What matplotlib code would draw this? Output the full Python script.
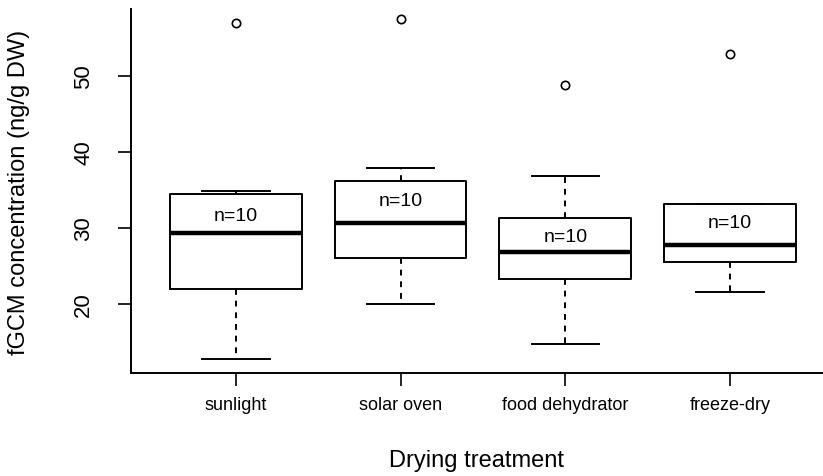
import matplotlib
matplotlib.use('Agg')
import matplotlib.pyplot as plt

# ---------------------------------------------------------------------------
# Data (ng/g DW)
# ---------------------------------------------------------------------------
treatments = ['sunlight', 'solar oven', 'food dehydrator', 'freeze-dry']
whis_lo = [12.8, 20.0, 14.7, 21.6]
q1 = [22.0, 26.1, 23.3, 25.5]
medians = [29.3, 30.7, 26.8, 27.7]
q3 = [34.4, 36.2, 31.3, 33.1]
whis_hi = [34.9, 37.9, 36.8, 33.1]
outliers = [[56.9], [57.5], [48.8], [52.9]]
n_labels = ['n=10', 'n=10', 'n=10', 'n=10']
n_label_y = [31.6, 33.6, 28.9, 30.7]

plt.rcParams.update({
    'font.family': ['Liberation Sans', 'DejaVu Sans'],
})

fig = plt.figure(figsize=(8.23, 4.77), dpi=100)
ax = fig.add_axes([0.159, 0.216, 0.841, 0.763])

stats = []
for i, name in enumerate(treatments):
    stats.append(dict(label=name, whislo=whis_lo[i], q1=q1[i], med=medians[i],
                      q3=q3[i], whishi=whis_hi[i], fliers=outliers[i]))

pos = list(range(1, len(treatments) + 1))
ax.bxp(stats, positions=pos, widths=0.8, capwidths=0.41, showfliers=True,
       boxprops=dict(color='black', linewidth=1.4),
       medianprops=dict(color='black', linewidth=3.2, solid_capstyle='butt'),
       whiskerprops=dict(color='black', linewidth=1.4, linestyle=(0, (3, 3))),
       capprops=dict(color='black', linewidth=1.4),
       flierprops=dict(marker='o', markerfacecolor='none', markeredgecolor='black',
                       markersize=6, markeredgewidth=1.2))

for p, txt, y in zip(pos, n_labels, n_label_y):
    ax.text(p, y, txt, ha='center', va='center', fontsize=14)

ax.set_xlim(0.363, 4.564)
ax.set_ylim(10.93, 58.76)
ax.set_yticks([20, 30, 40, 50])
ax.set_yticklabels(['20', '30', '40', '50'], rotation=90, va='center', fontsize=16)
ax.set_xticks(pos)
ax.set_xticklabels(treatments, fontsize=13)
ax.tick_params(axis='y', length=9.5, width=1.2, pad=17)
ax.tick_params(axis='x', length=9.5, width=1.2, pad=7)

for side in ['top', 'right']:
    ax.spines[side].set_visible(False)
for side in ['left', 'bottom']:
    ax.spines[side].set_linewidth(1.4)

ax.set_ylabel('fGCM concentration (ng/g DW)', fontsize=17)
ax.yaxis.set_label_coords(-0.145, 0.5)
ax.set_xlabel('Drying treatment', fontsize=17, labelpad=26)

fig.savefig('out.png', dpi=100)
